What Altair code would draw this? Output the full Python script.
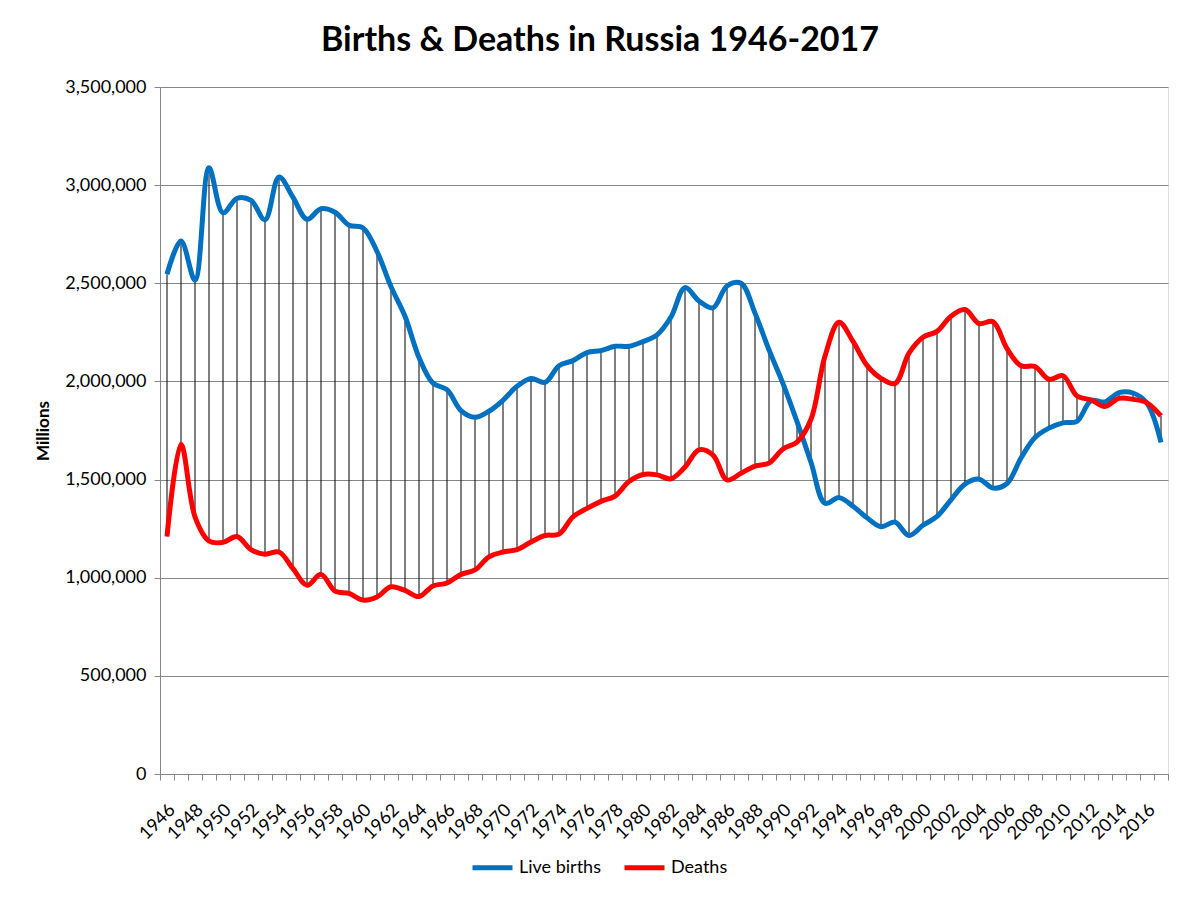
import altair as alt
import pandas as pd

years = list(range(1946, 2018))

births = [2546000, 2715000, 2516000, 3089000, 2859000, 2933000, 2922000, 2823000, 3041000, 2938000,
          2826000, 2880000, 2862000, 2796000, 2782000, 2662000, 2483000, 2332000, 2122000, 1991000,
          1958000, 1851000, 1817000, 1848000, 1904000, 1975000, 2015000, 1995000, 2080000, 2106000,
          2147000, 2157000, 2179000, 2179000, 2203000, 2237000, 2328000, 2478000, 2410000, 2375000,
          2486000, 2500000, 2348000, 2161000, 1989000, 1795000, 1588000, 1379000, 1408000, 1364000,
          1305000, 1260000, 1283000, 1215000, 1267000, 1312000, 1397000, 1477000, 1502000, 1457000,
          1480000, 1610000, 1714000, 1762000, 1789000, 1797000, 1902000, 1896000, 1943000, 1941000,
          1889000, 1690000]

deaths = [1210000, 1680000, 1310000, 1187000, 1180000, 1210000, 1143000, 1120000, 1131000, 1046000,
          962000, 1017000, 932000, 920000, 886000, 902000, 954000, 935000, 904000, 958000,
          973000, 1017000, 1040000, 1106000, 1131000, 1143000, 1182000, 1215000, 1222000, 1310000,
          1353000, 1389000, 1416000, 1490000, 1526000, 1524000, 1504000, 1564000, 1651000, 1625000,
          1498000, 1532000, 1569000, 1584000, 1656000, 1691000, 1807000, 2129000, 2301000, 2204000,
          2082000, 2016000, 1989000, 2144000, 2225000, 2255000, 2332000, 2366000, 2295000, 2304000,
          2167000, 2080000, 2076000, 2011000, 2029000, 1926000, 1906000, 1872000, 1914000, 1909000,
          1891000, 1824000]

y_ticks = [0, 500000, 1000000, 1500000, 2000000, 2500000, 3000000, 3500000]

series_names = ["Live births", "Deaths"]
series_colors = ["#0070C0", "#FF0000"]

df = pd.DataFrame({"year": years, "Live births": births, "Deaths": deaths})

FONT = "Lato"
x_min, x_max = years[0] - 0.5, years[-1] + 0.5
tick_vals = [y - 0.5 for y in years] + [years[-1] + 0.5]

x_axis = alt.Axis(
    values=tick_vals,
    labelExpr="(datum.value + 0.5) % 2 == 0 && datum.value < 2017 ? format(datum.value + 0.5, 'd') : ''",
    labelOffset=12,
    labelAngle=-45,
    labelAlign="right",
    labelBaseline="middle",
    labelPadding=27,
    labelOverlap=False,
    labelFlush=False,
    tickSize=6,
    tickColor="#868686",
    domainColor="#868686",
    grid=False,
    title=None,
    labelFontSize=18,
    labelFont=FONT,
    labelColor="#000000",
)

y_axis = alt.Axis(
    values=y_ticks,
    format=",d",
    grid=True,
    gridColor="#868686",
    gridWidth=1,
    domainColor="#868686",
    tickColor="#868686",
    tickSize=6,
    labelFontSize=18,
    labelFont=FONT,
    labelColor="#000000",
    labelPadding=8,
    title="Millions",
    titleFont=FONT,
    titleFontSize=17,
    titleFontWeight="bold",
    titleColor="#000000",
    titlePadding=12,
)

x_scale = alt.Scale(domain=[x_min, x_max], nice=False, zero=False)
y_scale = alt.Scale(domain=[0, 3500000], nice=False)

rules = alt.Chart(df).mark_rule(color="#000000", strokeWidth=1).encode(
    x=alt.X("year:Q", scale=x_scale, axis=x_axis),
    y=alt.Y("Live births:Q", scale=y_scale, axis=y_axis),
    y2="Deaths:Q",
)

lines = alt.Chart(df).transform_fold(
    series_names, as_=["series", "value"]
).mark_line(strokeWidth=5, interpolate="catmull-rom").encode(
    x=alt.X("year:Q", scale=x_scale, axis=x_axis),
    y=alt.Y("value:Q", scale=y_scale, axis=y_axis),
    color=alt.Color(
        "series:N",
        scale=alt.Scale(domain=series_names, range=series_colors),
        sort=series_names,
        legend=alt.Legend(
            title=None,
            orient="none",
            legendX=310,
            legendY=758,
            direction="horizontal",
            symbolType="stroke",
            symbolSize=1600,
            symbolStrokeWidth=5,
            labelFont=FONT,
            labelFontSize=18,
            labelColor="#000000",
            columnPadding=13,
            labelOffset=4,
        ),
    ),
    order=alt.Order("series:N"),
)

chart = alt.layer(rules, lines).properties(
    width=1008,
    height=687,
    autosize=alt.AutoSizeParams(type="none"),
    padding={"left": 152, "top": 79, "right": 24, "bottom": 118},
    title=alt.TitleParams(
        "Births & Deaths in Russia 1946-2017",
        font=FONT,
        fontSize=34,
        fontWeight="bold",
        color="#000000",
        anchor="middle",
        frame="group",
        dx=-64,
        offset=20,
    ),
).configure_view(stroke=None).configure(background="white")

chart.save("out.html", embed_options={"renderer": "svg", "actions": False})
